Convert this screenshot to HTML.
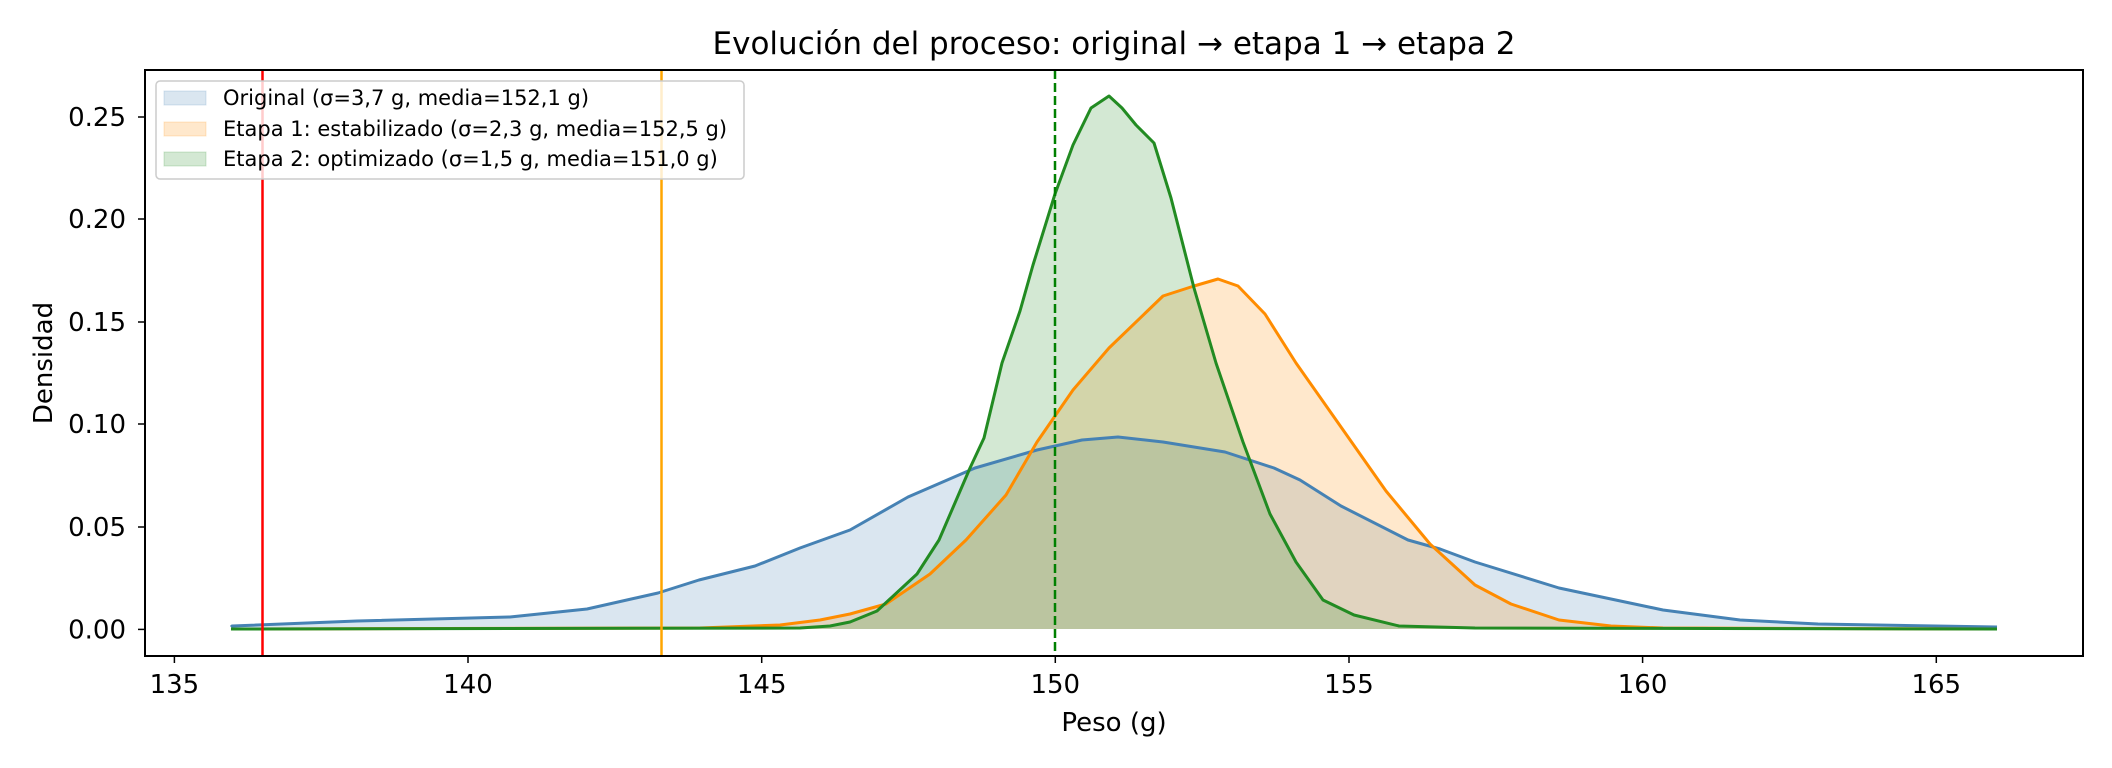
<!DOCTYPE html>
<html><head><meta charset="utf-8"><style>
html,body{margin:0;padding:0;background:#fff;}
svg{display:block;font-family:"DejaVu Sans","Liberation Sans",sans-serif;}
</style></head><body>
<svg width="2112" height="768" viewBox="0 0 2112 768" xmlns="http://www.w3.org/2000/svg">
<rect width="2112" height="768" fill="#fff"/>
<text x="1114" y="54" font-size="31" text-anchor="middle">Evolución del proceso: original → etapa 1 → etapa 2</text>

<path d="M231,627 L232,626 L357,621 L510,617 L587,609 L658,593 L699,580 L755,566 L800,548 L850,530 L908,497 L975,468 L1037,450 L1082,440 L1118,437 L1163,442 L1225,452 L1274,468 L1300,480 L1341,506 L1408,540 L1440,549 L1475,562 L1559,588 L1663,610 L1740,620 L1818,624 L1997,627 L1997,629 L231,629 Z" fill="#4682b4" fill-opacity="0.2"/>
<path d="M231,629 L700,628 L780,625 L820,620 L850,614 L886,604 L930,574 L966,540 L1006,495 L1037,442 L1073,390 L1109,348 L1163,296 L1194,286 L1218,279 L1238,286 L1265,314 L1296,363 L1341,427 L1386,491 L1430,544 L1475,585 L1511,604 L1559,620 L1611,626 L1663,628 L1997,629 Z" fill="#ff8c00" fill-opacity="0.2"/>
<path d="M231,629 L800,628 L830,626 L850,622 L877,611 L917,574 L939,540 L970,468 L984,438 L1002,363 L1020,311 L1033,265 L1055,194 L1073,145 L1091,108 L1109,96 L1122,108 L1136,125 L1154,143 L1171,198 L1194,288 L1216,363 L1243,442 L1270,514 L1296,562 L1323,600 L1354,615 L1399,626 L1475,628 L1997,629 Z" fill="#228b22" fill-opacity="0.2"/>

<g fill="none" stroke-width="3" stroke-linejoin="round">
<path d="M231,627 L232,626 L357,621 L510,617 L587,609 L658,593 L699,580 L755,566 L800,548 L850,530 L908,497 L975,468 L1037,450 L1082,440 L1118,437 L1163,442 L1225,452 L1274,468 L1300,480 L1341,506 L1408,540 L1440,549 L1475,562 L1559,588 L1663,610 L1740,620 L1818,624 L1997,627" stroke="#4682b4"/>
<path d="M231,629 L700,628 L780,625 L820,620 L850,614 L886,604 L930,574 L966,540 L1006,495 L1037,442 L1073,390 L1109,348 L1163,296 L1194,286 L1218,279 L1238,286 L1265,314 L1296,363 L1341,427 L1386,491 L1430,544 L1475,585 L1511,604 L1559,620 L1611,626 L1663,628 L1997,629" stroke="#ff8c00"/>
<path d="M231,629 L800,628 L830,626 L850,622 L877,611 L917,574 L939,540 L970,468 L984,438 L1002,363 L1020,311 L1033,265 L1055,194 L1073,145 L1091,108 L1109,96 L1122,108 L1136,125 L1154,143 L1171,198 L1194,288 L1216,363 L1243,442 L1270,514 L1296,562 L1323,600 L1354,615 L1399,626 L1475,628 L1997,629" stroke="#228b22"/>
</g>

<line x1="262.5" y1="70" x2="262.5" y2="656" stroke="#ff0000" stroke-width="2.5"/>
<line x1="661.5" y1="70" x2="661.5" y2="656" stroke="#ffa500" stroke-width="2.5"/>
<line x1="1055" y1="70" x2="1055" y2="656" stroke="#008000" stroke-width="2.5" stroke-dasharray="9,4"/>

<rect x="145" y="70" width="1938" height="586" fill="none" stroke="#000" stroke-width="2"/>

<g stroke="#000" stroke-width="1.5">
<line x1="138" y1="629.4" x2="145" y2="629.4"/><line x1="138" y1="527" x2="145" y2="527"/>
<line x1="138" y1="424" x2="145" y2="424"/><line x1="138" y1="322" x2="145" y2="322"/>
<line x1="138" y1="219" x2="145" y2="219"/><line x1="138" y1="117" x2="145" y2="117"/>
</g>
<g font-size="26" text-anchor="end">
<text x="126" y="638.5">0.00</text><text x="126" y="536">0.05</text>
<text x="126" y="433">0.10</text><text x="126" y="331">0.15</text>
<text x="126" y="228">0.20</text><text x="126" y="126">0.25</text>
</g>
<g stroke="#000" stroke-width="1.5">
<line x1="174.4" y1="656" x2="174.4" y2="663"/><line x1="468" y1="656" x2="468" y2="663"/>
<line x1="761.7" y1="656" x2="761.7" y2="663"/><line x1="1055.3" y1="656" x2="1055.3" y2="663"/>
<line x1="1349" y1="656" x2="1349" y2="663"/><line x1="1642.6" y1="656" x2="1642.6" y2="663"/>
<line x1="1936.3" y1="656" x2="1936.3" y2="663"/>
</g>
<g font-size="26" text-anchor="middle">
<text x="174.4" y="693">135</text><text x="468" y="693">140</text><text x="761.7" y="693">145</text>
<text x="1055.3" y="693">150</text><text x="1349" y="693">155</text><text x="1642.6" y="693">160</text>
<text x="1936.3" y="693">165</text>
</g>
<text x="1114" y="731" font-size="26" text-anchor="middle">Peso (g)</text>
<text transform="translate(52,363) rotate(-90)" font-size="26" text-anchor="middle">Densidad</text>

<rect x="156" y="81" width="588" height="98" rx="4" fill="#fff" fill-opacity="0.8" stroke="#ccc" stroke-width="1.5"/>
<rect x="164" y="91" width="42" height="14" fill="#4682b4" fill-opacity="0.2" stroke="#4682b4" stroke-opacity="0.2"/>
<rect x="164" y="122" width="42" height="14" fill="#ff8c00" fill-opacity="0.2" stroke="#ff8c00" stroke-opacity="0.2"/>
<rect x="164" y="152" width="42" height="14" fill="#228b22" fill-opacity="0.2" stroke="#228b22" stroke-opacity="0.2"/>
<g font-size="21">
<text x="223" y="105">Original (σ=3,7 g, media=152,1 g)</text>
<text x="223" y="136">Etapa 1: estabilizado (σ=2,3 g, media=152,5 g)</text>
<text x="223" y="166">Etapa 2: optimizado (σ=1,5 g, media=151,0 g)</text>
</g>
</svg>
</body></html>
